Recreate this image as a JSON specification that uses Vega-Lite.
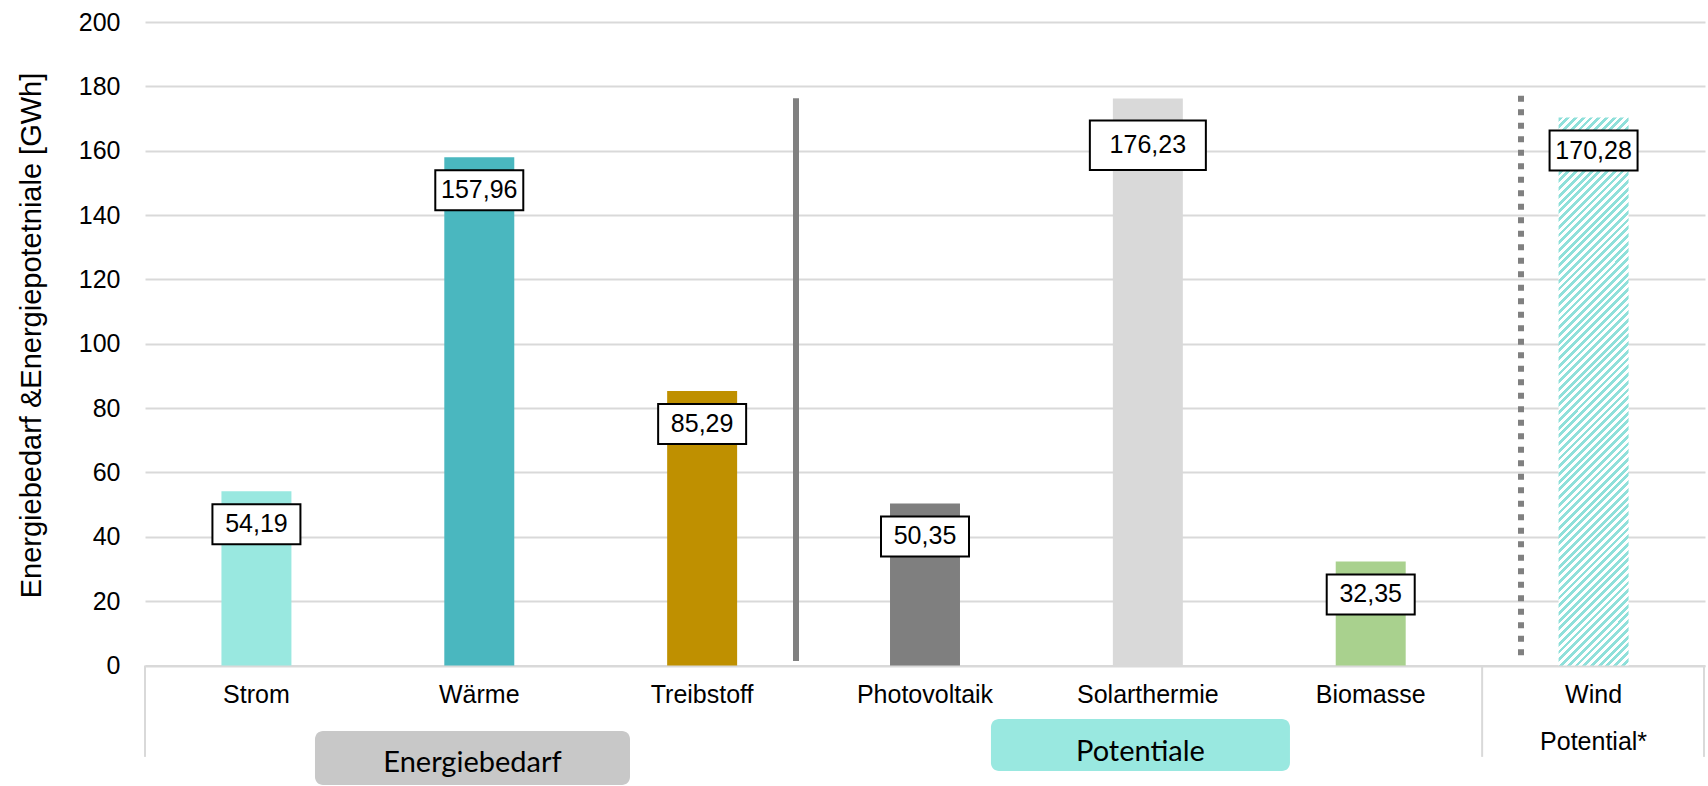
{
  "$schema": "https://vega.github.io/schema/vega-lite/v6.json",
  "width": 1560,
  "height": 643.5,
  "autosize": {"type": "none"},
  "padding": {"left": 145, "top": 22, "right": 3, "bottom": 120.5},
  "background": "white",
  "config": {
    "view": {"stroke": null},
    "locale": {"number": {"decimal": ",", "thousands": ".", "grouping": [3], "currency": ["", " €"]}},
    "text": {"font": "Liberation Sans"},
    "axis": {"labelFont": "Liberation Sans", "titleFont": "Liberation Sans", "labelColor": "#000", "titleColor": "#000", "ticks": false, "tickSize": 0},
    "axisX": {"labelFontSize": 25, "labelAngle": 0, "labelBaseline": "middle", "labelPadding": 28.5, "domainColor": "#d9d9d9", "domainWidth": 2, "labelLimit": 0, "grid": false},
    "axisY": {"labelFontSize": 25, "labelPadding": 25, "domain": false, "grid": true, "gridColor": "#d9d9d9", "gridWidth": 2, "titleFontSize": 29, "titleFontWeight": "normal", "titleX": -113.5, "titleY": 313, "titleAngle": -90, "titleAlign": "center", "titleBaseline": "middle", "titlePadding": 0}
  },
  "datasets": {
    "werte": [
      {"Kategorie": "Strom", "Wert": 54.19},
      {"Kategorie": "Wärme", "Wert": 157.96},
      {"Kategorie": "Treibstoff", "Wert": 85.29},
      {"Kategorie": "Photovoltaik", "Wert": 50.35},
      {"Kategorie": "Solarthermie", "Wert": 176.23},
      {"Kategorie": "Biomasse", "Wert": 32.35},
      {"Kategorie": "Wind", "Wert": 170.28}
    ]
  },
  "data": {"name": "werte"},
  "layer": [
    {
      "transform": [{"filter": "datum.Kategorie !== 'Wind'"}],
      "mark": {"type": "bar"},
      "encoding": {
        "x": {
          "field": "Kategorie", "type": "nominal", "title": null,
          "scale": {"type": "band", "domain": ["Strom", "Wärme", "Treibstoff", "Photovoltaik", "Solarthermie", "Biomasse", "Wind"], "paddingInner": 0.686, "paddingOuter": 0.343}
        },
        "y": {
          "field": "Wert", "type": "quantitative", "title": "Energiebedarf &Energiepotetniale [GWh]",
          "scale": {"domain": [0, 200], "nice": false},
          "axis": {"values": [0, 20, 40, 60, 80, 100, 120, 140, 160, 180, 200]}
        },
        "color": {
          "field": "Kategorie", "type": "nominal",
          "scale": {"domain": ["Strom", "Wärme", "Treibstoff", "Photovoltaik", "Solarthermie", "Biomasse"], "range": ["#99e8e0", "#4ab7bf", "#bf9000", "#7f7f7f", "#d9d9d9", "#a9d18e"]},
          "legend": null
        }
      }
    },
    {
      "transform": [{"filter": "datum.Kategorie === 'Wind'"}],
      "mark": {
        "type": "bar",
        "fill": {
          "gradient": "linear", "x1": 0, "y1": 0, "x2": 0.14177, "y2": 1.10965,
          "stops": [
            {"offset":0,"color":"#8fe0da"},{"offset":0.00625,"color":"#8fe0da"},{"offset":0.00625,"color":"#fff"},{"offset":0.0125,"color":"#fff"},
            {"offset":0.0125,"color":"#8fe0da"},{"offset":0.01875,"color":"#8fe0da"},{"offset":0.01875,"color":"#fff"},{"offset":0.025,"color":"#fff"},
            {"offset":0.025,"color":"#8fe0da"},{"offset":0.03125,"color":"#8fe0da"},{"offset":0.03125,"color":"#fff"},{"offset":0.0375,"color":"#fff"},
            {"offset":0.0375,"color":"#8fe0da"},{"offset":0.04375,"color":"#8fe0da"},{"offset":0.04375,"color":"#fff"},{"offset":0.05,"color":"#fff"},
            {"offset":0.05,"color":"#8fe0da"},{"offset":0.05625,"color":"#8fe0da"},{"offset":0.05625,"color":"#fff"},{"offset":0.0625,"color":"#fff"},
            {"offset":0.0625,"color":"#8fe0da"},{"offset":0.06875,"color":"#8fe0da"},{"offset":0.06875,"color":"#fff"},{"offset":0.075,"color":"#fff"},
            {"offset":0.075,"color":"#8fe0da"},{"offset":0.08125,"color":"#8fe0da"},{"offset":0.08125,"color":"#fff"},{"offset":0.0875,"color":"#fff"},
            {"offset":0.0875,"color":"#8fe0da"},{"offset":0.09375,"color":"#8fe0da"},{"offset":0.09375,"color":"#fff"},{"offset":0.1,"color":"#fff"},
            {"offset":0.1,"color":"#8fe0da"},{"offset":0.10625,"color":"#8fe0da"},{"offset":0.10625,"color":"#fff"},{"offset":0.1125,"color":"#fff"},
            {"offset":0.1125,"color":"#8fe0da"},{"offset":0.11875,"color":"#8fe0da"},{"offset":0.11875,"color":"#fff"},{"offset":0.125,"color":"#fff"},
            {"offset":0.125,"color":"#8fe0da"},{"offset":0.13125,"color":"#8fe0da"},{"offset":0.13125,"color":"#fff"},{"offset":0.1375,"color":"#fff"},
            {"offset":0.1375,"color":"#8fe0da"},{"offset":0.14375,"color":"#8fe0da"},{"offset":0.14375,"color":"#fff"},{"offset":0.15,"color":"#fff"},
            {"offset":0.15,"color":"#8fe0da"},{"offset":0.15625,"color":"#8fe0da"},{"offset":0.15625,"color":"#fff"},{"offset":0.1625,"color":"#fff"},
            {"offset":0.1625,"color":"#8fe0da"},{"offset":0.16875,"color":"#8fe0da"},{"offset":0.16875,"color":"#fff"},{"offset":0.175,"color":"#fff"},
            {"offset":0.175,"color":"#8fe0da"},{"offset":0.18125,"color":"#8fe0da"},{"offset":0.18125,"color":"#fff"},{"offset":0.1875,"color":"#fff"},
            {"offset":0.1875,"color":"#8fe0da"},{"offset":0.19375,"color":"#8fe0da"},{"offset":0.19375,"color":"#fff"},{"offset":0.2,"color":"#fff"},
            {"offset":0.2,"color":"#8fe0da"},{"offset":0.20625,"color":"#8fe0da"},{"offset":0.20625,"color":"#fff"},{"offset":0.2125,"color":"#fff"},
            {"offset":0.2125,"color":"#8fe0da"},{"offset":0.21875,"color":"#8fe0da"},{"offset":0.21875,"color":"#fff"},{"offset":0.225,"color":"#fff"},
            {"offset":0.225,"color":"#8fe0da"},{"offset":0.23125,"color":"#8fe0da"},{"offset":0.23125,"color":"#fff"},{"offset":0.2375,"color":"#fff"},
            {"offset":0.2375,"color":"#8fe0da"},{"offset":0.24375,"color":"#8fe0da"},{"offset":0.24375,"color":"#fff"},{"offset":0.25,"color":"#fff"},
            {"offset":0.25,"color":"#8fe0da"},{"offset":0.25625,"color":"#8fe0da"},{"offset":0.25625,"color":"#fff"},{"offset":0.2625,"color":"#fff"},
            {"offset":0.2625,"color":"#8fe0da"},{"offset":0.26875,"color":"#8fe0da"},{"offset":0.26875,"color":"#fff"},{"offset":0.275,"color":"#fff"},
            {"offset":0.275,"color":"#8fe0da"},{"offset":0.28125,"color":"#8fe0da"},{"offset":0.28125,"color":"#fff"},{"offset":0.2875,"color":"#fff"},
            {"offset":0.2875,"color":"#8fe0da"},{"offset":0.29375,"color":"#8fe0da"},{"offset":0.29375,"color":"#fff"},{"offset":0.3,"color":"#fff"},
            {"offset":0.3,"color":"#8fe0da"},{"offset":0.30625,"color":"#8fe0da"},{"offset":0.30625,"color":"#fff"},{"offset":0.3125,"color":"#fff"},
            {"offset":0.3125,"color":"#8fe0da"},{"offset":0.31875,"color":"#8fe0da"},{"offset":0.31875,"color":"#fff"},{"offset":0.325,"color":"#fff"},
            {"offset":0.325,"color":"#8fe0da"},{"offset":0.33125,"color":"#8fe0da"},{"offset":0.33125,"color":"#fff"},{"offset":0.3375,"color":"#fff"},
            {"offset":0.3375,"color":"#8fe0da"},{"offset":0.34375,"color":"#8fe0da"},{"offset":0.34375,"color":"#fff"},{"offset":0.35,"color":"#fff"},
            {"offset":0.35,"color":"#8fe0da"},{"offset":0.35625,"color":"#8fe0da"},{"offset":0.35625,"color":"#fff"},{"offset":0.3625,"color":"#fff"},
            {"offset":0.3625,"color":"#8fe0da"},{"offset":0.36875,"color":"#8fe0da"},{"offset":0.36875,"color":"#fff"},{"offset":0.375,"color":"#fff"},
            {"offset":0.375,"color":"#8fe0da"},{"offset":0.38125,"color":"#8fe0da"},{"offset":0.38125,"color":"#fff"},{"offset":0.3875,"color":"#fff"},
            {"offset":0.3875,"color":"#8fe0da"},{"offset":0.39375,"color":"#8fe0da"},{"offset":0.39375,"color":"#fff"},{"offset":0.4,"color":"#fff"},
            {"offset":0.4,"color":"#8fe0da"},{"offset":0.40625,"color":"#8fe0da"},{"offset":0.40625,"color":"#fff"},{"offset":0.4125,"color":"#fff"},
            {"offset":0.4125,"color":"#8fe0da"},{"offset":0.41875,"color":"#8fe0da"},{"offset":0.41875,"color":"#fff"},{"offset":0.425,"color":"#fff"},
            {"offset":0.425,"color":"#8fe0da"},{"offset":0.43125,"color":"#8fe0da"},{"offset":0.43125,"color":"#fff"},{"offset":0.4375,"color":"#fff"},
            {"offset":0.4375,"color":"#8fe0da"},{"offset":0.44375,"color":"#8fe0da"},{"offset":0.44375,"color":"#fff"},{"offset":0.45,"color":"#fff"},
            {"offset":0.45,"color":"#8fe0da"},{"offset":0.45625,"color":"#8fe0da"},{"offset":0.45625,"color":"#fff"},{"offset":0.4625,"color":"#fff"},
            {"offset":0.4625,"color":"#8fe0da"},{"offset":0.46875,"color":"#8fe0da"},{"offset":0.46875,"color":"#fff"},{"offset":0.475,"color":"#fff"},
            {"offset":0.475,"color":"#8fe0da"},{"offset":0.48125,"color":"#8fe0da"},{"offset":0.48125,"color":"#fff"},{"offset":0.4875,"color":"#fff"},
            {"offset":0.4875,"color":"#8fe0da"},{"offset":0.49375,"color":"#8fe0da"},{"offset":0.49375,"color":"#fff"},{"offset":0.5,"color":"#fff"},
            {"offset":0.5,"color":"#8fe0da"},{"offset":0.50625,"color":"#8fe0da"},{"offset":0.50625,"color":"#fff"},{"offset":0.5125,"color":"#fff"},
            {"offset":0.5125,"color":"#8fe0da"},{"offset":0.51875,"color":"#8fe0da"},{"offset":0.51875,"color":"#fff"},{"offset":0.525,"color":"#fff"},
            {"offset":0.525,"color":"#8fe0da"},{"offset":0.53125,"color":"#8fe0da"},{"offset":0.53125,"color":"#fff"},{"offset":0.5375,"color":"#fff"},
            {"offset":0.5375,"color":"#8fe0da"},{"offset":0.54375,"color":"#8fe0da"},{"offset":0.54375,"color":"#fff"},{"offset":0.55,"color":"#fff"},
            {"offset":0.55,"color":"#8fe0da"},{"offset":0.55625,"color":"#8fe0da"},{"offset":0.55625,"color":"#fff"},{"offset":0.5625,"color":"#fff"},
            {"offset":0.5625,"color":"#8fe0da"},{"offset":0.56875,"color":"#8fe0da"},{"offset":0.56875,"color":"#fff"},{"offset":0.575,"color":"#fff"},
            {"offset":0.575,"color":"#8fe0da"},{"offset":0.58125,"color":"#8fe0da"},{"offset":0.58125,"color":"#fff"},{"offset":0.5875,"color":"#fff"},
            {"offset":0.5875,"color":"#8fe0da"},{"offset":0.59375,"color":"#8fe0da"},{"offset":0.59375,"color":"#fff"},{"offset":0.6,"color":"#fff"},
            {"offset":0.6,"color":"#8fe0da"},{"offset":0.60625,"color":"#8fe0da"},{"offset":0.60625,"color":"#fff"},{"offset":0.6125,"color":"#fff"},
            {"offset":0.6125,"color":"#8fe0da"},{"offset":0.61875,"color":"#8fe0da"},{"offset":0.61875,"color":"#fff"},{"offset":0.625,"color":"#fff"},
            {"offset":0.625,"color":"#8fe0da"},{"offset":0.63125,"color":"#8fe0da"},{"offset":0.63125,"color":"#fff"},{"offset":0.6375,"color":"#fff"},
            {"offset":0.6375,"color":"#8fe0da"},{"offset":0.64375,"color":"#8fe0da"},{"offset":0.64375,"color":"#fff"},{"offset":0.65,"color":"#fff"},
            {"offset":0.65,"color":"#8fe0da"},{"offset":0.65625,"color":"#8fe0da"},{"offset":0.65625,"color":"#fff"},{"offset":0.6625,"color":"#fff"},
            {"offset":0.6625,"color":"#8fe0da"},{"offset":0.66875,"color":"#8fe0da"},{"offset":0.66875,"color":"#fff"},{"offset":0.675,"color":"#fff"},
            {"offset":0.675,"color":"#8fe0da"},{"offset":0.68125,"color":"#8fe0da"},{"offset":0.68125,"color":"#fff"},{"offset":0.6875,"color":"#fff"},
            {"offset":0.6875,"color":"#8fe0da"},{"offset":0.69375,"color":"#8fe0da"},{"offset":0.69375,"color":"#fff"},{"offset":0.7,"color":"#fff"},
            {"offset":0.7,"color":"#8fe0da"},{"offset":0.70625,"color":"#8fe0da"},{"offset":0.70625,"color":"#fff"},{"offset":0.7125,"color":"#fff"},
            {"offset":0.7125,"color":"#8fe0da"},{"offset":0.71875,"color":"#8fe0da"},{"offset":0.71875,"color":"#fff"},{"offset":0.725,"color":"#fff"},
            {"offset":0.725,"color":"#8fe0da"},{"offset":0.73125,"color":"#8fe0da"},{"offset":0.73125,"color":"#fff"},{"offset":0.7375,"color":"#fff"},
            {"offset":0.7375,"color":"#8fe0da"},{"offset":0.74375,"color":"#8fe0da"},{"offset":0.74375,"color":"#fff"},{"offset":0.75,"color":"#fff"},
            {"offset":0.75,"color":"#8fe0da"},{"offset":0.75625,"color":"#8fe0da"},{"offset":0.75625,"color":"#fff"},{"offset":0.7625,"color":"#fff"},
            {"offset":0.7625,"color":"#8fe0da"},{"offset":0.76875,"color":"#8fe0da"},{"offset":0.76875,"color":"#fff"},{"offset":0.775,"color":"#fff"},
            {"offset":0.775,"color":"#8fe0da"},{"offset":0.78125,"color":"#8fe0da"},{"offset":0.78125,"color":"#fff"},{"offset":0.7875,"color":"#fff"},
            {"offset":0.7875,"color":"#8fe0da"},{"offset":0.79375,"color":"#8fe0da"},{"offset":0.79375,"color":"#fff"},{"offset":0.8,"color":"#fff"},
            {"offset":0.8,"color":"#8fe0da"},{"offset":0.80625,"color":"#8fe0da"},{"offset":0.80625,"color":"#fff"},{"offset":0.8125,"color":"#fff"},
            {"offset":0.8125,"color":"#8fe0da"},{"offset":0.81875,"color":"#8fe0da"},{"offset":0.81875,"color":"#fff"},{"offset":0.825,"color":"#fff"},
            {"offset":0.825,"color":"#8fe0da"},{"offset":0.83125,"color":"#8fe0da"},{"offset":0.83125,"color":"#fff"},{"offset":0.8375,"color":"#fff"},
            {"offset":0.8375,"color":"#8fe0da"},{"offset":0.84375,"color":"#8fe0da"},{"offset":0.84375,"color":"#fff"},{"offset":0.85,"color":"#fff"},
            {"offset":0.85,"color":"#8fe0da"},{"offset":0.85625,"color":"#8fe0da"},{"offset":0.85625,"color":"#fff"},{"offset":0.8625,"color":"#fff"},
            {"offset":0.8625,"color":"#8fe0da"},{"offset":0.86875,"color":"#8fe0da"},{"offset":0.86875,"color":"#fff"},{"offset":0.875,"color":"#fff"},
            {"offset":0.875,"color":"#8fe0da"},{"offset":0.88125,"color":"#8fe0da"},{"offset":0.88125,"color":"#fff"},{"offset":0.8875,"color":"#fff"},
            {"offset":0.8875,"color":"#8fe0da"},{"offset":0.89375,"color":"#8fe0da"},{"offset":0.89375,"color":"#fff"},{"offset":0.9,"color":"#fff"},
            {"offset":0.9,"color":"#8fe0da"},{"offset":0.90625,"color":"#8fe0da"},{"offset":0.90625,"color":"#fff"},{"offset":0.9125,"color":"#fff"},
            {"offset":0.9125,"color":"#8fe0da"},{"offset":0.91875,"color":"#8fe0da"},{"offset":0.91875,"color":"#fff"},{"offset":0.925,"color":"#fff"},
            {"offset":0.925,"color":"#8fe0da"},{"offset":0.93125,"color":"#8fe0da"},{"offset":0.93125,"color":"#fff"},{"offset":0.9375,"color":"#fff"},
            {"offset":0.9375,"color":"#8fe0da"},{"offset":0.94375,"color":"#8fe0da"},{"offset":0.94375,"color":"#fff"},{"offset":0.95,"color":"#fff"},
            {"offset":0.95,"color":"#8fe0da"},{"offset":0.95625,"color":"#8fe0da"},{"offset":0.95625,"color":"#fff"},{"offset":0.9625,"color":"#fff"},
            {"offset":0.9625,"color":"#8fe0da"},{"offset":0.96875,"color":"#8fe0da"},{"offset":0.96875,"color":"#fff"},{"offset":0.975,"color":"#fff"},
            {"offset":0.975,"color":"#8fe0da"},{"offset":0.98125,"color":"#8fe0da"},{"offset":0.98125,"color":"#fff"},{"offset":0.9875,"color":"#fff"},
            {"offset":0.9875,"color":"#8fe0da"},{"offset":0.99375,"color":"#8fe0da"},{"offset":0.99375,"color":"#fff"},{"offset":1,"color":"#fff"}
          ]
        }
      },
      "encoding": {
        "x": {"field": "Kategorie", "type": "nominal", "title": null},
        "y": {"field": "Wert", "type": "quantitative", "title": "Energiebedarf &Energiepotetniale [GWh]"}
      }
    },
    {
      "transform": [{"filter": "datum.Kategorie !== 'Solarthermie'"}],
      "mark": {"type": "bar", "width": 88, "fill": "#fff", "stroke": "#000", "strokeWidth": 2, "yOffset": 13, "y2Offset": 53},
      "encoding": {
        "x": {"field": "Kategorie", "type": "nominal", "title": null},
        "y": {"field": "Wert", "type": "quantitative", "title": "Energiebedarf &Energiepotetniale [GWh]"},
        "y2": {"field": "Wert"}
      }
    },
    {
      "transform": [{"filter": "datum.Kategorie === 'Solarthermie'"}],
      "mark": {"type": "bar", "width": 116, "fill": "#fff", "stroke": "#000", "strokeWidth": 2, "yOffset": 22, "y2Offset": 71.5},
      "encoding": {
        "x": {"field": "Kategorie", "type": "nominal", "title": null},
        "y": {"field": "Wert", "type": "quantitative", "title": "Energiebedarf &Energiepotetniale [GWh]"},
        "y2": {"field": "Wert"}
      }
    },
    {
      "transform": [{"filter": "datum.Kategorie !== 'Solarthermie'"}],
      "mark": {"type": "text", "fontSize": 25, "color": "#000", "baseline": "middle", "align": "center", "dy": 33},
      "encoding": {
        "x": {"field": "Kategorie", "type": "nominal", "title": null},
        "y": {"field": "Wert", "type": "quantitative", "title": "Energiebedarf &Energiepotetniale [GWh]"},
        "text": {"field": "Wert", "type": "quantitative", "format": ".2f"}
      }
    },
    {
      "transform": [{"filter": "datum.Kategorie === 'Solarthermie'"}],
      "mark": {"type": "text", "fontSize": 25, "color": "#000", "baseline": "middle", "align": "center", "dy": 46.5},
      "encoding": {
        "x": {"field": "Kategorie", "type": "nominal", "title": null},
        "y": {"field": "Wert", "type": "quantitative", "title": "Energiebedarf &Energiepotetniale [GWh]"},
        "text": {"field": "Wert", "type": "quantitative", "format": ".2f"}
      }
    },
    {
      "data": {"values": [{}]},
      "mark": {"type": "rule", "stroke": "#d9d9d9", "strokeWidth": 2, "xOffset": -111.43},
      "encoding": {
        "x": {"datum": "Strom", "type": "nominal", "bandPosition": 0.5, "title": null},
        "y": {"datum": 0, "type": "quantitative", "title": "Energiebedarf &Energiepotetniale [GWh]"},
        "y2": {"datum": -28.4}
      }
    },
    {
      "data": {"values": [{}]},
      "mark": {"type": "rule", "stroke": "#d9d9d9", "strokeWidth": 2, "xOffset": -111.43},
      "encoding": {
        "x": {"datum": "Wind", "type": "nominal", "bandPosition": 0.5, "title": null},
        "y": {"datum": 0, "type": "quantitative", "title": "Energiebedarf &Energiepotetniale [GWh]"},
        "y2": {"datum": -28.4}
      }
    },
    {
      "data": {"values": [{}]},
      "mark": {"type": "rule", "stroke": "#d9d9d9", "strokeWidth": 2, "xOffset": 110.4},
      "encoding": {
        "x": {"datum": "Wind", "type": "nominal", "bandPosition": 0.5, "title": null},
        "y": {"datum": 0, "type": "quantitative", "title": "Energiebedarf &Energiepotetniale [GWh]"},
        "y2": {"datum": -28.4}
      }
    },
    {
      "data": {"values": [{}]},
      "mark": {"type": "rule", "stroke": "#808080", "strokeWidth": 6, "xOffset": 93.86},
      "encoding": {
        "x": {"datum": "Treibstoff", "type": "nominal", "bandPosition": 0.5, "title": null},
        "y": {"datum": 176.3, "type": "quantitative", "title": "Energiebedarf &Energiepotetniale [GWh]"},
        "y2": {"datum": 1.4}
      }
    },
    {
      "data": {"values": [{}]},
      "mark": {"type": "rule", "stroke": "#808080", "strokeWidth": 6, "strokeDash": [6, 7.5], "strokeCap": "butt", "xOffset": -72.57},
      "encoding": {
        "x": {"datum": "Wind", "type": "nominal", "bandPosition": 0.5, "title": null},
        "y": {"datum": 177.1, "type": "quantitative", "title": "Energiebedarf &Energiepotetniale [GWh]"},
        "y2": {"datum": 1.4}
      }
    },
    {
      "data": {"values": [{"gruppe": "Energiebedarf"}]},
      "mark": {"type": "bar", "fill": "#c8c8c8", "cornerRadius": 8, "width": 315, "xOffset": -6.8},
      "encoding": {
        "x": {"datum": "Wärme", "type": "nominal", "title": null},
        "y": {"datum": -20.36, "type": "quantitative", "title": "Energiebedarf &Energiepotetniale [GWh]"},
        "y2": {"datum": -37.14}
      }
    },
    {
      "data": {"values": [{"gruppe": "Energiebedarf"}]},
      "mark": {"type": "text", "font": "Lato", "fontSize": 29, "color": "#000", "align": "center", "baseline": "middle", "xOffset": -6.8},
      "encoding": {
        "x": {"datum": "Wärme", "type": "nominal", "bandPosition": 0.5, "title": null},
        "y": {"datum": -30.3, "type": "quantitative", "title": "Energiebedarf &Energiepotetniale [GWh]"},
        "text": {"field": "gruppe"}
      }
    },
    {
      "data": {"values": [{"gruppe": "Potentiale"}]},
      "mark": {"type": "bar", "fill": "#99e8e0", "cornerRadius": 8, "width": 299, "xOffset": -7.4},
      "encoding": {
        "x": {"datum": "Solarthermie", "type": "nominal", "title": null},
        "y": {"datum": -16.6, "type": "quantitative", "title": "Energiebedarf &Energiepotetniale [GWh]"},
        "y2": {"datum": -32.8}
      }
    },
    {
      "data": {"values": [{"gruppe": "Potentiale"}]},
      "mark": {"type": "text", "font": "Lato", "fontSize": 29, "color": "#000", "align": "center", "baseline": "middle", "xOffset": -7.4},
      "encoding": {
        "x": {"datum": "Solarthermie", "type": "nominal", "bandPosition": 0.5, "title": null},
        "y": {"datum": -26.9, "type": "quantitative", "title": "Energiebedarf &Energiepotetniale [GWh]"},
        "text": {"field": "gruppe"}
      }
    },
    {
      "data": {"values": [{"gruppe": "Potential*"}]},
      "mark": {"type": "text", "fontSize": 25, "color": "#000", "align": "center", "baseline": "middle"},
      "encoding": {
        "x": {"datum": "Wind", "type": "nominal", "bandPosition": 0.5, "title": null},
        "y": {"datum": -23.8, "type": "quantitative", "title": "Energiebedarf &Energiepotetniale [GWh]"},
        "text": {"field": "gruppe"}
      }
    }
  ]
}
